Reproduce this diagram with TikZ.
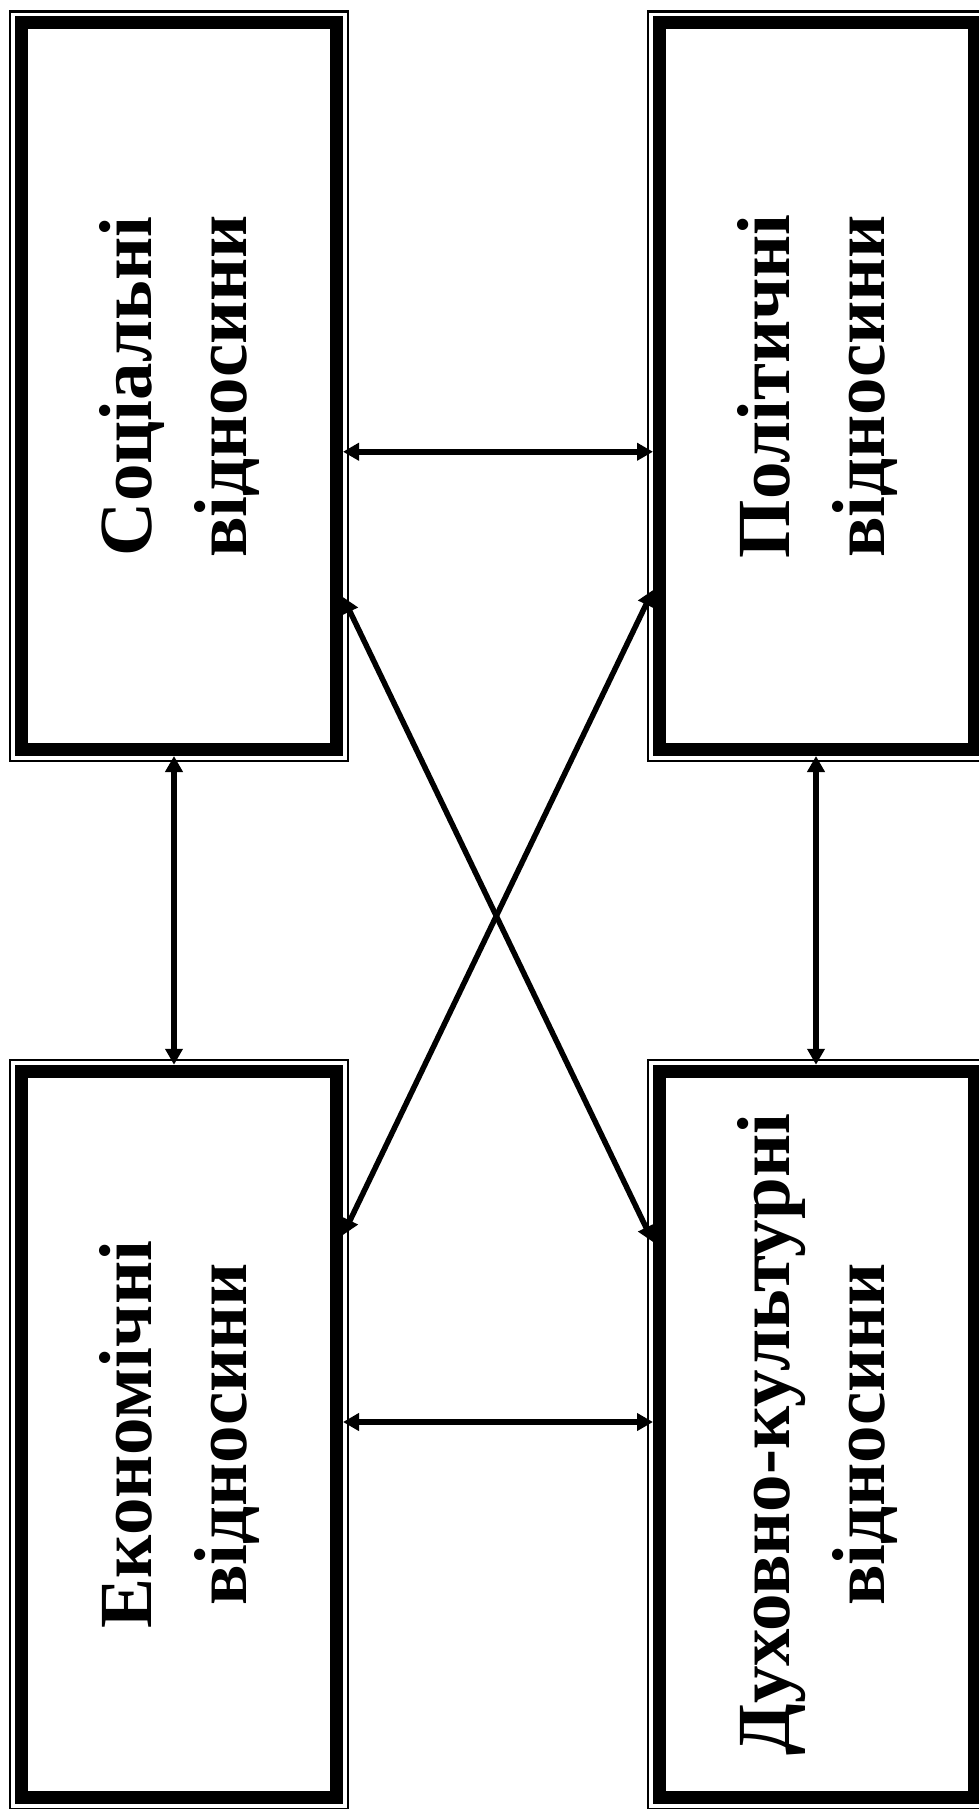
\documentclass[tikz,border=0pt]{standalone}
\usepackage{fontspec}
\setmainfont{Liberation Serif}
\usetikzlibrary{arrows.meta}
\tikzset{
  box/.style={draw=black, line width=13pt, fill=white, minimum width=315pt, minimum height=726.5pt, inner sep=0pt, outer sep=auto},
  outerline/.style={draw=black, line width=2.2pt},
  lbl/.style={rotate=90, align=center, font=\fontsize{75pt}{95pt}\selectfont\bfseries, inner sep=0pt},
  biarrow/.style={line width=5.5pt, {Triangle[length=16pt,width=17pt]}-{Triangle[length=16pt,width=17pt]}}
}
\begin{document}
\begin{tikzpicture}[x=1pt,y=-1pt]
\useasboundingbox (0,0) rectangle (979,1809);
\fill[white] (0,0) rectangle (979,1809);
% boxes
\node[box] (TL) at (179,386.25) {};
\node[box] (TR) at (817,386.25) {};
\node[box] (BL) at (179,1434.5) {};
\node[box] (BR) at (817,1434.5) {};
\foreach \b in {TL,TR,BL,BR}{
  \draw[outerline] ([shift={(-5,-5)}]\b.north west) rectangle ([shift={(5,5)}]\b.south east);
}
% labels
\node[lbl] (tTL) at (TL) {Соціальні\\відносини};
\node[lbl] (tTR) at (TR) {Політичні\\відносини};
\node[lbl] (tBL) at (BL) {Економічні\\відносини};
\node[lbl] (tBR) at (BR) {Духовно-культурні\\відносини};
% connectors
\draw[biarrow] ([shift={(0,65.5)}]TL.east) -- ([shift={(0,65.5)}]TR.west);
\draw[biarrow] ([shift={(0,-12.5)}]BL.east) -- ([shift={(0,-12.5)}]BR.west);
\draw[biarrow] ([shift={(-5,0)}]TL.south) -- ([shift={(-5,0)}]BL.north);
\draw[biarrow] ([shift={(-1,0)}]TR.south) -- ([shift={(-1,0)}]BR.north);
\draw[biarrow] ([shift={(0,210.75)}]TL.east) -- ([shift={(0,-192.5)}]BR.west);
\draw[biarrow] ([shift={(0,-199.5)}]BL.east) -- ([shift={(0,203.75)}]TR.west);
\end{tikzpicture}
\end{document}
